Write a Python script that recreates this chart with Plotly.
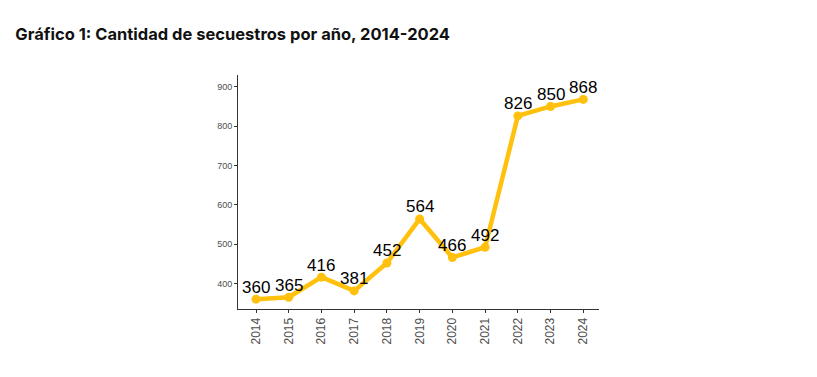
import plotly.graph_objects as go

years = ["2014", "2015", "2016", "2017", "2018", "2019", "2020", "2021", "2022", "2023", "2024"]
values = [360, 365, 416, 381, 452, 564, 466, 492, 826, 850, 868]
y_ticks = [400, 500, 600, 700, 800, 900]
title_text = "Gráfico 1: Cantidad de secuestros por año, 2014-2024"

xs = list(range(len(years)))

fig = go.Figure()
fig.add_trace(go.Scatter(
    x=xs, y=values,
    mode="lines+markers",
    line=dict(color="#FFC00E", width=4.5),
    marker=dict(color="#FFC00E", size=9),
    cliponaxis=False,
    hoverinfo="skip",
))

for xi, v in zip(xs, values):
    fig.add_annotation(x=xi, y=v, text=str(v), showarrow=False,
                       yanchor="middle", yshift=12,
                       font=dict(family="Liberation Sans, Arial", size=17, color="black"))

fig.update_layout(
    width=817, height=377,
    margin=dict(l=230, r=226, t=67, b=76),
    paper_bgcolor="white", plot_bgcolor="white",
    showlegend=False,
    title=dict(text="<b>" + title_text + "</b>", x=0.009, xanchor="left",
               y=0.93, yanchor="middle",
               font=dict(family="Inter", size=16.5, color="#111111")),
    xaxis=dict(
        range=[-0.55, 10.48],
        tickmode="array", tickvals=xs, ticktext=years,
        tickangle=-90, showgrid=False, zeroline=False,
        showline=True, linecolor="#333333", linewidth=1,
        ticks="outside", ticklen=3, tickcolor="#333333",
        tickfont=dict(family="Liberation Sans, Arial", size=12, color="#4d4d4d"),
    ),
    yaxis=dict(
        range=[335, 930],
        tickmode="array", tickvals=y_ticks,
        showgrid=False, zeroline=False,
        showline=True, linecolor="#333333", linewidth=1,
        ticks="outside", ticklen=3, tickcolor="#333333",
        tickfont=dict(family="Liberation Sans, Arial", size=9, color="#4d4d4d"),
    ),
)

fig.write_html("out.html")
